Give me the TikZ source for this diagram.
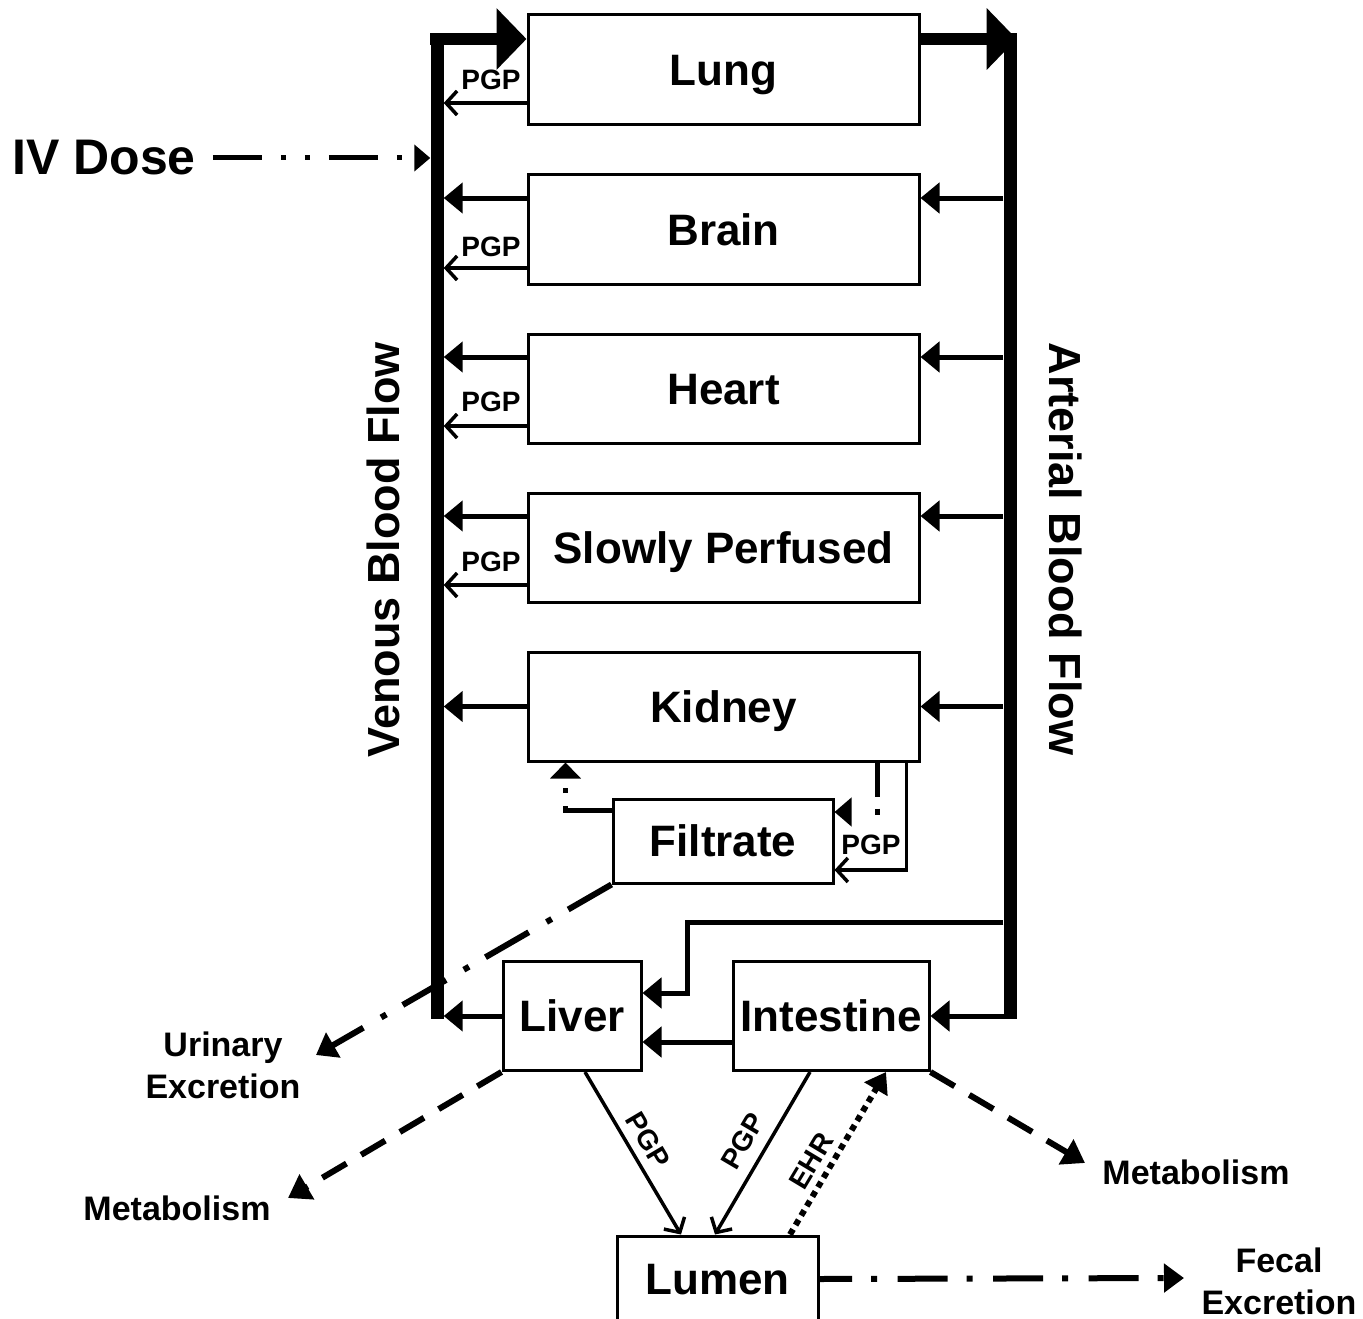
\documentclass[tikz,border=0pt]{standalone}
\usepackage{fontspec}
\setmainfont{Liberation Sans}
\usetikzlibrary{arrows.meta}
\begin{document}
\begin{tikzpicture}[x=1pt,y=-1pt,
 box/.style={draw,line width=3pt,inner sep=0pt,text height=31.5pt,text depth=0pt,font=\fontsize{44}{48}\selectfont\bfseries},
 bar/.style={fill=black,inner sep=0pt,minimum width=13pt,minimum height=986pt,anchor=north},
 flow/.style={line width=5pt,-{Triangle[length=19pt,width=30pt]}},
 big/.style={line width=12pt,-{Triangle[length=30pt,width=60pt]}},
 pgp/.style={line width=3.5pt,-{Straight Barb[length=11pt,width=24pt]}},
 lab/.style={font=\fontsize{28}{30}\selectfont\bfseries,inner sep=0pt},
 outtxt/.style={font=\fontsize{34}{42}\selectfont\bfseries,align=center,inner sep=0pt},
 dd/.style={line width=6pt,dash pattern=on 50pt off 19pt on 6pt off 20.5pt,-{Triangle[length=20pt,width=28pt]}},
 dsh/.style={line width=6pt,dash pattern=on 28pt off 17pt,-{Triangle[length=22pt,width=28pt]}},
 ehr/.style={line width=6pt,dash pattern=on 6pt off 5pt,-{Triangle[length=20pt,width=26pt]}},
]
\useasboundingbox (0,0) rectangle (1363,1319);

% organ boxes
\node[box,minimum width=391pt,minimum height=110pt] (lung) at (723.5,70) {Lung};
\node[box,minimum width=391pt,minimum height=109pt] (brain) at (723.5,229.5) {Brain};
\node[box,minimum width=391pt,minimum height=109pt] (heart) at (723.5,388.5) {Heart};
\node[box,minimum width=391pt,minimum height=109pt] (slow) at (723.5,547.5) {Slowly Perfused};
\node[box,minimum width=391pt,minimum height=109pt] (kidney) at (723.5,706.5) {Kidney};
\node[box,minimum width=220pt,minimum height=84pt] (filtrate) at (723,841) {Filtrate};
\node[box,minimum width=138pt,minimum height=109pt] (liver) at (572,1016) {Liver};
\node[box,minimum width=196pt,minimum height=109pt] (intestine) at (831,1016) {Intestine};
\node[box,minimum width=201pt,minimum height=86pt] (lumen) at (717.5,1279) {Lumen};

% blood bars
\node[bar] (ven) at (437,33) {};
\node[bar] (art) at (1010,33) {};
\node[rotate=90,inner sep=0pt,font=\fontsize{45}{50}\selectfont\bfseries] (vlab) at (383,550) {Venous Blood Flow};
\node[rotate=-90,inner sep=0pt,font=\fontsize{45}{50}\selectfont\bfseries] (alab) at (1066,549) {Arterial Blood Flow};

% top big arrows
\coordinate (vtop) at ([yshift=-6pt]ven.north west);
\coordinate (atop) at ([yshift=-6pt]art.north east);
\draw[big] (vtop) -- (vtop -| lung.west);
\draw[big] (lung.east |- atop) -- (atop);

% organ flows
\foreach \n in {brain,heart,slow}{
  \path ([yshift=31.5pt]\n.west) coordinate (tw) ([yshift=31.5pt]\n.east) coordinate (te);
  \draw[flow] (tw) -- (tw -| ven.east);
  \draw[flow] (te -| art.west) -- (te);
}
\draw[flow] (kidney.west) -- (kidney.west -| ven.east);
\draw[flow] (kidney.east -| art.west) -- (kidney.east);

% PGP efflux arrows
\foreach \n/\s/\l in {lung/33/80,brain/38.5/247,heart/37.5/402,slow/37.5/562}{
  \path ([yshift=-\s*1pt]\n.west) coordinate (pp);
  \draw[pgp] (pp) -- (pp -| ven.east);
  \node[lab] at (491,\l) {PGP};
}

% IV dose
\node[inner sep=0pt,font=\fontsize{50}{56}\selectfont\bfseries] (iv) at (104,158) {IV Dose};
\draw[line width=5pt,dash pattern=on 49pt off 19pt on 5pt off 19pt on 5pt off 19pt,-{Triangle[length=16pt,width=26pt]}] ([xshift=17pt]iv.east) -- (iv.east -| ven.west);

% kidney / filtrate
\coordinate (kA) at ([xshift=39pt]kidney.south west);
\coordinate (kB) at ([xshift=-43pt]kidney.south east);
\coordinate (kC) at ([xshift=-14pt]kidney.south east);
\draw[line width=5pt,dash pattern=on 50pt off 13pt on 5pt off 13pt,-{Triangle[length=16pt,width=30pt]}] ([yshift=31pt]filtrate.west) -| (kA);
\draw[line width=5pt,dash pattern=on 34pt off 12pt on 6pt off 30pt,-{Triangle[length=17pt,width=28pt]}] (kB) |- ([yshift=29pt]filtrate.east);
\draw[pgp] (kC) |- ([yshift=-29pt]filtrate.east);
\node[lab] at (871,845) {PGP};

% liver / intestine flows
\coordinate (lbr) at ([xshift=45pt,yshift=23pt]liver.east);
\draw[flow] ([yshift=71pt]lbr -| art.west) -| (lbr) -- ([yshift=23pt]liver.east);
\draw[flow] ([yshift=-26pt]intestine.west) -- ([yshift=-26pt]liver.east);
\draw[flow] (intestine.east -| art.center) -- (intestine.east);
\draw[flow] (liver.west) -- (liver.west -| ven.east);

% outputs
\node[outtxt] (urin) at (223,1065) {Urinary\\Excretion};
\node[outtxt] (metL) at (177,1208) {Metabolism};
\node[outtxt] (metR) at (1196,1172) {Metabolism};
\node[outtxt] (fecal) at (1279,1281) {Fecal\\Excretion};
\coordinate (uTip) at (316,1055);
\coordinate (mTipL) at (288,1198);
\coordinate (mTipR) at (1085,1163);
\coordinate (fTip) at (1184,1278);
\draw[dd] (filtrate.south west) -- (uTip);
\draw[dsh] (liver.south west) -- (mTipL);
\draw[dsh] (intestine.south east) -- (mTipR);
\draw[dd,dash phase=17.5pt] (lumen.east) -- (fTip);

% lumen exchange
\draw[pgp] ([xshift=13pt]liver.south) -- ([xshift=-36.5pt]lumen.north);
\draw[pgp] ([xshift=-21pt]intestine.south) -- ([xshift=-2.5pt]lumen.north);
\draw[ehr] ([xshift=72.5pt]lumen.north) -- ([xshift=55pt]intestine.south);
\node[lab,rotate=-59.5] at (648,1140) {PGP};
\node[lab,rotate=59.5] at (743,1141) {PGP};
\node[lab,rotate=59] at (811,1161) {EHR};
\end{tikzpicture}
\end{document}
